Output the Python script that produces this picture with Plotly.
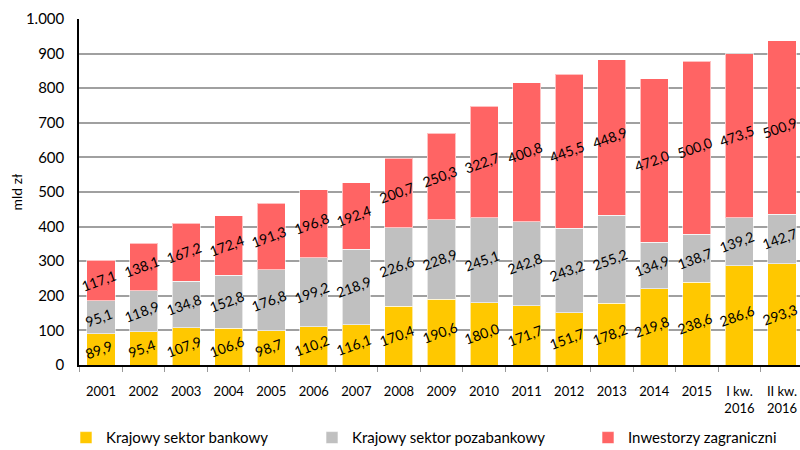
import plotly.graph_objects as go

categories = ["2001", "2002", "2003", "2004", "2005", "2006", "2007", "2008", "2009",
              "2010", "2011", "2012", "2013", "2014", "2015", "I kw.<br>2016", "II kw.<br>2016"]
bank = [89.9, 95.4, 107.9, 106.6, 98.7, 110.2, 116.1, 170.4, 190.6, 180.0, 171.7,
        151.7, 178.2, 219.8, 238.6, 286.6, 293.3]
nonbank = [95.1, 118.9, 134.8, 152.8, 176.8, 199.2, 218.9, 226.6, 228.9, 245.1, 242.8,
           243.2, 255.2, 134.9, 138.7, 139.2, 142.7]
foreign = [117.1, 138.1, 167.2, 172.4, 191.3, 196.8, 192.4, 200.7, 250.3, 322.7, 400.8,
           445.5, 448.9, 472.0, 500.0, 473.5, 500.9]
series_names = ["Krajowy sektor bankowy", "Krajowy sektor pozabankowy", "Inwestorzy zagraniczni"]
colors = ["#FFC800", "#C0C0C0", "#FF6464"]
y_ticks = [0, 100, 200, 300, 400, 500, 600, 700, 800, 900, 1000]

FONT = "Lato"
legend_ids = ["legend", "legend2", "legend3"]
legend_x = [0.0825, 0.39, 0.735]

fig = go.Figure()
for name, vals, col, lid in zip(series_names, [bank, nonbank, foreign], colors, legend_ids):
    fig.add_trace(go.Bar(x=categories, y=vals, name=name, legend=lid, showlegend=True,
                         marker=dict(color=col, line=dict(color="rgba(255,255,255,0.6)", width=1))))

annotations = []
bases = [0.0] * len(categories)
for vals in [bank, nonbank, foreign]:
    for i, v in enumerate(vals):
        annotations.append(dict(x=i, y=bases[i] + v / 2,
                                text=f"{v:.1f}".replace(".", ","),
                                showarrow=False, textangle=-20, xshift=-2,
                                font=dict(family=FONT, size=14, color="#000000")))
        bases[i] += v

legend_common = dict(orientation="h", y=0.027, xref="container", yref="container",
                     xanchor="left", yanchor="middle",
                     font=dict(family=FONT, size=15, color="#000000"))
fig.update_layout(
    width=800, height=450,
    showlegend=True,
    barmode="stack", bargap=0.34,
    separators=",.",
    plot_bgcolor="white", paper_bgcolor="white",
    margin=dict(l=79, r=0, t=19, b=85, autoexpand=False),
    font=dict(family=FONT, size=14, color="#000000"),
    annotations=annotations,
    legend=dict(x=legend_x[0], **legend_common),
    legend2=dict(x=legend_x[1], **legend_common),
    legend3=dict(x=legend_x[2], **legend_common),
    xaxis=dict(type="category", range=[-0.517, 16.423], showline=True, linecolor="#000000", linewidth=1.5,
               ticks="outside", tickson="boundaries", ticklen=5, tickcolor="#999999",
               ticklabelstandoff=14,
               tickfont=dict(family=FONT, size=13, color="#000000")),
    yaxis=dict(range=[0, 1000], tickvals=y_ticks, tickformat=",d",
               showline=True, linecolor="#000000", linewidth=1.5,
               showgrid=True, gridcolor="#A0A0A0", gridwidth=1.5,
               ticks="", ticklabelstandoff=10, tickfont=dict(family=FONT, size=15, color="#000000"),
               title=dict(text="mld zł", font=dict(family=FONT, size=14), standoff=0)),
)
fig.write_html("out.html", config={"displayModeBar": False},
               post_script="document.body.style.margin='0';document.body.style.overflow='hidden';")
